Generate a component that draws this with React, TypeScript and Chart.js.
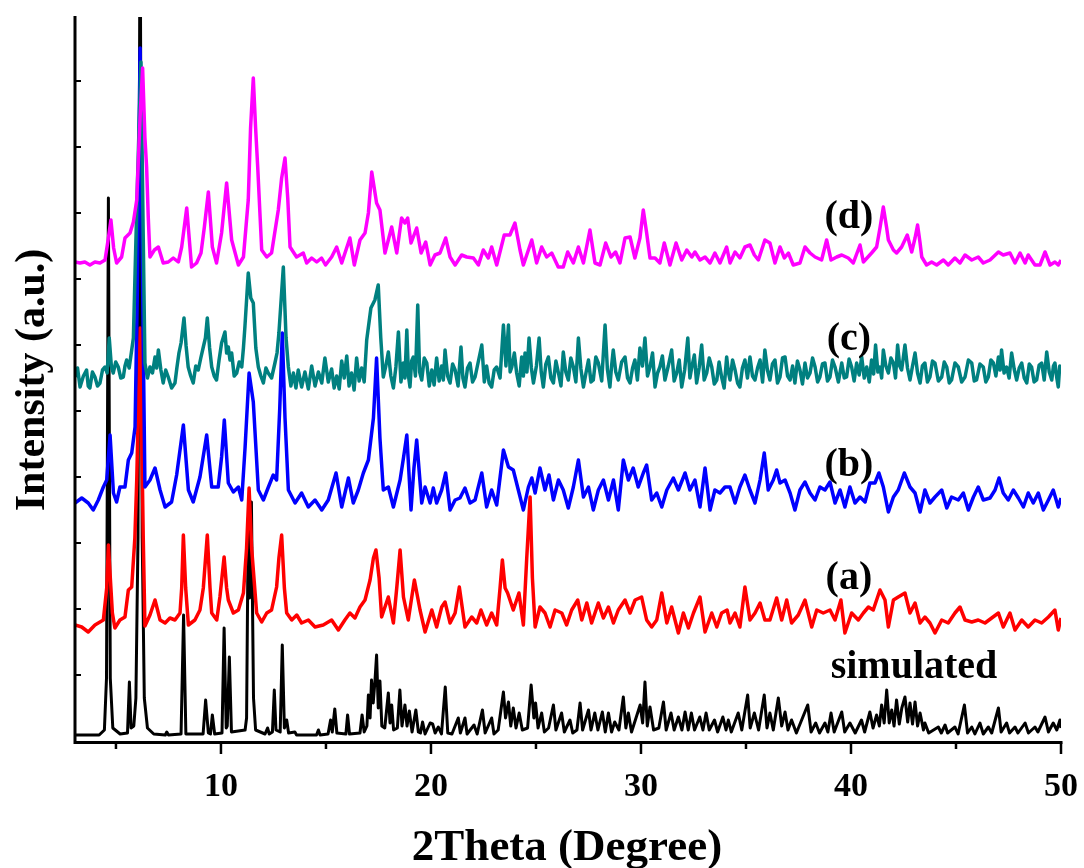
import React, { useEffect, useRef } from "react";
import { Chart, registerables } from "chart.js";

Chart.register(...registerables);

// 2Theta (degree) range and axis ticks
const xMin = 3.05;
const xMax = 50;
const xMajorTicks = [10, 20, 30, 40, 50];
const xMinorTicks = [5, 15, 25, 35, 45];
const yMin = -3;
const yMax = 721;
const yTickStep = 66;

const seriesLabels = ["(d)", "(c)", "(b)", "(a)", "simulated"];
const seriesColors = ["#FF00FF", "#008080", "#0000FF", "#FF0000", "#000000"];
const seriesWidths = [3.5, 3.5, 3.5, 3.5, 3];

// simulated pattern (intensity, a.u.)
const simulated: [number, number][] = [
  [3.05,3],[4.2,3],[4.45,8],[4.55,60],[4.64,540],[4.73,60],[4.85,10],[5.2,4],[5.55,5],[5.64,56],[5.72,10],[5.85,12],[5.95,40],[6.05,200],[6.15,850],[6.25,200],[6.35,40],[6.5,10],[6.8,4],
  [7.35,3],[7.42,6],[7.5,3],[8.1,4],[8.22,123],[8.33,4],[9.15,4],[9.27,38],[9.4,5],[9.5,4],[9.59,23],[9.7,4],[10.05,5],[10.15,110],[10.25,10],[10.3,12],[10.4,81],[10.5,6],
  [11.15,8],[11.22,20],[11.3,220],[11.36,140],[11.45,236],[11.55,40],[11.65,8],[12.1,4],[12.22,10],[12.3,4],[12.45,6],[12.54,48],[12.62,8],[12.82,6],[12.92,93],[13.02,10],[13.13,18],[13.22,5],
  [13.52,6],[13.6,3],[14.55,3],[14.64,8],[14.72,3],[15.1,4],[15.22,18],[15.3,6],[15.42,29],[15.52,5],[15.95,4],[16.03,23],[16.12,4],[16.62,5],[16.72,23],[16.82,6],[16.95,12],
  [17.02,43],[17.1,20],[17.17,58],[17.25,35],[17.33,56],[17.41,83],[17.49,30],[17.57,57],[17.66,12],[17.8,10],[17.97,45],[18.05,15],[18.13,33],[18.22,8],[18.4,10],[18.52,48],[18.62,12],
  [18.76,33],[18.86,12],[18.97,27],[19.1,6],[19.28,28],[19.4,6],[19.5,5],[19.6,16],[19.72,4],[19.96,15],[20.08,14],[20.2,5],[20.35,11],[20.5,4],[20.68,51],[20.8,5],[21.0,4],[21.3,20],
  [21.4,5],[21.62,20],[21.72,4],[22.05,13],[22.2,4],[22.45,28],[22.58,5],[22.89,20],[23.0,4],[23.2,8],[23.45,46],[23.55,20],[23.69,36],[23.8,12],[23.92,30],[24.05,10],[24.2,25],[24.35,8],
  [24.6,10],[24.77,53],[24.9,20],[24.98,35],[25.1,10],[25.27,25],[25.4,6],[25.6,10],[25.83,33],[25.95,8],[26.22,25],[26.35,6],[26.62,18],[26.75,5],[26.95,8],[27.1,35],[27.22,8],[27.5,28],
  [27.62,8],[27.8,25],[27.95,8],[28.16,26],[28.3,6],[28.45,25],[28.6,6],[28.75,16],[28.95,8],[29.16,41],[29.28,10],[29.4,25],[29.55,6],[29.96,33],[30.08,15],[30.19,56],[30.3,12],[30.43,31],
  [30.6,8],[30.85,10],[31.07,36],[31.2,8],[31.43,25],[31.58,8],[31.78,21],[31.95,8],[32.1,26],[32.25,8],[32.4,25],[32.55,8],[32.8,21],[32.95,8],[33.1,25],[33.25,8],[33.5,18],[33.65,6],
  [33.9,21],[34.05,8],[34.16,18],[34.3,6],[34.63,25],[34.8,8],[35.08,43],[35.2,10],[35.4,25],[35.6,8],[35.87,43],[36.0,10],[36.14,25],[36.3,8],[36.54,40],[36.7,12],[36.86,26],[37.0,8],
  [37.17,18],[37.4,5],[37.94,33],[38.1,6],[38.32,15],[38.5,5],[38.76,15],[38.9,6],[39.05,25],[39.2,6],[39.56,26],[39.7,6],[39.95,15],[40.2,5],[40.5,18],[40.65,6],[40.9,26],[41.05,10],
  [41.22,23],[41.35,12],[41.46,33],[41.58,15],[41.7,48],[41.82,15],[41.94,28],[42.05,12],[42.17,38],[42.3,14],[42.42,30],[42.57,41],[42.7,16],[42.81,35],[42.93,14],[43.05,36],[43.17,12],
  [43.29,25],[43.45,8],[43.52,15],[43.7,5],[44.16,11],[44.3,5],[44.48,13],[44.6,5],[44.95,11],[45.1,4],[45.4,33],[45.55,5],[45.75,11],[45.9,4],[46.14,15],[46.3,4],[46.54,11],[46.7,5],
  [47.02,30],[47.15,6],[47.41,15],[47.55,5],[47.81,11],[47.95,5],[48.29,15],[48.45,5],[48.76,11],[48.9,6],[49.24,21],[49.4,6],[49.63,15],[49.8,8],[49.95,18],[50,10]
];

// sample (a)
const sampleA: [number, number][] = [
  [3.05,113],[3.37,111],[3.68,106],[4.0,113],[4.4,118],[4.56,150],[4.64,193],[4.76,150],[4.83,125],[4.95,110],[5.19,118],[5.43,121],[5.59,148],[5.75,151],[5.9,200],[5.99,258],[6.15,410],
  [6.3,200],[6.38,112],[6.62,123],[6.86,138],[7.1,118],[7.34,115],[7.57,120],[7.81,118],[8.05,125],[8.13,150],[8.21,203],[8.32,150],[8.45,113],[8.76,118],[9.0,128],[9.16,150],[9.35,203],
  [9.48,150],[9.56,125],[9.8,118],[9.95,141],[10.15,181],[10.27,150],[10.35,138],[10.59,125],[10.83,128],[11.07,145],[11.22,190],[11.34,250],[11.46,190],[11.7,125],[11.94,116],[12.18,125],
  [12.41,128],[12.65,151],[12.76,180],[12.89,203],[13.02,150],[13.13,125],[13.37,118],[13.61,123],[13.84,115],[14.16,118],[14.48,111],[14.87,113],[15.27,118],[15.59,108],[15.9,118],
  [16.14,125],[16.38,120],[16.62,131],[16.86,138],[17.1,158],[17.26,180],[17.38,188],[17.53,160],[17.65,121],[17.97,141],[18.21,115],[18.37,150],[18.53,188],[18.69,141],[18.92,118],
  [19.21,158],[19.48,128],[19.72,106],[20.04,128],[20.27,111],[20.51,131],[20.67,136],[20.91,115],[21.15,125],[21.35,151],[21.62,111],[21.94,121],[22.18,115],[22.38,128],[22.65,113],
  [22.89,125],[23.13,113],[23.29,150],[23.4,178],[23.53,150],[23.65,145],[23.92,128],[24.19,145],[24.4,113],[24.56,180],[24.72,241],[24.83,160],[24.96,111],[25.19,131],[25.43,125],
  [25.67,111],[25.91,128],[26.23,125],[26.46,113],[26.7,128],[26.99,138],[27.18,118],[27.42,135],[27.65,115],[27.97,135],[28.21,120],[28.45,131],[28.69,115],[28.92,128],[29.24,138],
  [29.48,125],[29.72,138],[30.03,141],[30.27,118],[30.51,111],[30.75,118],[30.99,145],[31.23,115],[31.46,131],[31.78,105],[32.02,125],[32.26,110],[32.5,125],[32.81,141],[33.05,106],
  [33.37,125],[33.61,111],[33.84,125],[34.1,128],[34.24,115],[34.48,125],[34.71,111],[34.95,151],[35.19,118],[35.43,125],[35.67,135],[35.9,118],[36.14,118],[36.46,140],[36.7,118],
  [36.94,138],[37.17,115],[37.49,123],[37.81,138],[38.13,111],[38.37,128],[38.68,125],[39.0,128],[39.24,118],[39.52,138],[39.71,105],[40.03,125],[40.35,118],[40.59,125],[40.83,131],
  [41.06,128],[41.38,148],[41.62,138],[41.78,111],[42.02,138],[42.25,141],[42.57,145],[42.81,125],[43.05,135],[43.29,115],[43.52,121],[43.76,115],[44.0,105],[44.32,118],[44.63,115],
  [44.95,125],[45.19,131],[45.43,118],[45.75,116],[46.06,118],[46.38,115],[46.7,120],[47.02,125],[47.25,111],[47.57,125],[47.81,108],[48.13,118],[48.44,111],[48.76,118],[49.08,115],
  [49.4,121],[49.71,128],[49.87,108],[50,120]
];

// sample (b)
const sampleB: [number, number][] = [
  [3.05,235],[3.37,240],[3.68,235],[3.92,228],[4.16,238],[4.4,251],[4.56,258],[4.72,303],[4.88,245],[5.03,236],[5.19,251],[5.43,251],[5.59,278],[5.75,285],[5.91,311],[6.02,450],[6.15,690],
  [6.27,450],[6.38,251],[6.62,258],[6.86,270],[7.1,248],[7.34,231],[7.65,236],[7.89,263],[8.21,313],[8.45,248],[8.68,236],[9.0,261],[9.32,303],[9.56,251],[9.87,251],[10.03,281],[10.16,318],
  [10.35,255],[10.59,246],[10.83,251],[10.99,238],[11.15,291],[11.34,365],[11.54,336],[11.78,248],[12.02,238],[12.26,251],[12.49,263],[12.65,258],[12.8,330],[12.92,405],[13.05,320],
  [13.21,248],[13.53,235],[13.84,245],[14.16,231],[14.48,238],[14.8,228],[15.11,238],[15.48,265],[15.75,231],[16.07,260],[16.3,235],[16.54,248],[16.78,265],[17.02,278],[17.26,320],
  [17.41,380],[17.57,300],[17.73,248],[17.97,251],[18.21,231],[18.53,258],[18.69,280],[18.85,303],[19.05,228],[19.19,270],[19.32,298],[19.56,235],[19.72,251],[19.96,235],[20.11,250],
  [20.27,235],[20.51,248],[20.7,265],[20.91,228],[21.15,238],[21.38,240],[21.62,250],[21.86,235],[22.1,238],[22.42,265],[22.65,231],[22.89,248],[23.13,233],[23.45,288],[23.69,271],
  [23.92,268],[24.16,248],[24.4,228],[24.64,251],[24.8,260],[24.96,245],[25.19,270],[25.43,248],[25.62,263],[25.83,238],[26.07,258],[26.3,248],[26.54,230],[26.78,251],[27.02,278],
  [27.26,241],[27.5,251],[27.73,228],[27.97,248],[28.21,258],[28.45,238],[28.69,258],[28.92,228],[29.16,278],[29.4,258],[29.63,270],[29.87,251],[30.11,265],[30.27,273],[30.51,238],
  [30.75,245],[30.99,231],[31.23,248],[31.54,260],[31.78,248],[32.1,265],[32.33,248],[32.57,258],[32.81,231],[33.05,270],[33.29,228],[33.52,248],[33.76,245],[34.0,251],[34.24,251],
  [34.48,235],[34.71,251],[34.95,263],[35.19,248],[35.43,235],[35.67,258],[35.87,285],[36.06,248],[36.3,258],[36.46,268],[36.62,255],[36.86,258],[37.1,245],[37.33,228],[37.57,248],
  [37.81,256],[38.05,245],[38.29,238],[38.52,251],[38.76,248],[39.0,256],[39.24,235],[39.48,248],[39.71,231],[39.95,251],[40.19,235],[40.43,241],[40.67,236],[40.9,255],[41.14,255],
  [41.33,265],[41.54,251],[41.78,226],[42.02,241],[42.25,248],[42.54,265],[42.81,251],[43.05,245],[43.29,226],[43.52,248],[43.76,235],[44.0,241],[44.32,248],[44.56,230],[44.79,241],
  [45.11,238],[45.35,245],[45.59,228],[45.83,241],[46.06,251],[46.3,238],[46.62,240],[46.86,248],[47.05,260],[47.25,245],[47.49,238],[47.73,248],[47.97,240],[48.21,231],[48.44,245],
  [48.68,235],[48.92,245],[49.16,228],[49.4,238],[49.63,248],[49.87,231],[50,240]
];

// sample (c)
const sampleC: [number, number][] = [
  [3.05,361],[3.17,370],[3.29,351],[3.45,362],[3.6,368],[3.68,352],[3.76,350],[3.88,366],[4.0,361],[4.12,352],[4.24,355],[4.36,368],[4.48,371],[4.58,365],[4.68,400],[4.78,372],[4.87,365],
  [4.99,376],[5.11,371],[5.23,360],[5.35,361],[5.43,372],[5.51,378],[5.63,370],[5.75,388],[5.83,400],[5.91,465],[6.03,560],[6.19,676],[6.3,500],[6.38,375],[6.5,360],[6.62,371],[6.74,365],
  [6.86,381],[6.94,370],[7.02,388],[7.14,368],[7.25,355],[7.37,368],[7.49,361],[7.65,350],[7.81,355],[7.9,370],[8.0,385],[8.1,395],[8.24,420],[8.34,392],[8.44,371],[8.56,362],[8.68,355],
  [8.8,372],[8.92,368],[9.04,380],[9.16,391],[9.26,400],[9.35,420],[9.46,390],[9.56,371],[9.68,362],[9.79,358],[9.91,378],[10.03,395],[10.19,406],[10.27,385],[10.35,391],[10.43,378],
  [10.51,385],[10.63,362],[10.75,365],[10.87,376],[10.99,371],[11.07,390],[11.14,411],[11.3,465],[11.42,440],[11.54,435],[11.66,390],[11.78,371],[11.9,362],[12.02,355],[12.14,370],
  [12.25,365],[12.41,360],[12.57,375],[12.67,385],[12.76,405],[12.97,471],[13.1,400],[13.21,371],[13.33,352],[13.45,365],[13.57,350],[13.68,368],[13.84,351],[14.0,366],[14.16,349],
  [14.32,372],[14.48,352],[14.64,366],[14.8,355],[14.95,380],[15.11,356],[15.27,369],[15.39,350],[15.51,362],[15.63,349],[15.75,377],[15.87,360],[15.99,382],[16.1,352],[16.22,365],
  [16.34,348],[16.46,380],[16.58,357],[16.7,370],[16.82,356],[16.94,398],[17.14,430],[17.33,438],[17.49,453],[17.61,400],[17.73,361],[17.85,372],[17.97,386],[18.09,362],[18.21,350],
  [18.33,371],[18.45,406],[18.57,356],[18.68,375],[18.76,360],[18.85,408],[18.93,362],[19.0,351],[19.08,377],[19.16,381],[19.26,362],[19.37,433],[19.46,366],[19.56,358],[19.68,380],
  [19.8,375],[19.92,352],[20.04,368],[20.15,353],[20.27,380],[20.39,357],[20.51,372],[20.59,358],[20.67,388],[20.79,362],[20.91,355],[21.03,374],[21.15,368],[21.29,352],[21.43,391],
  [21.52,360],[21.62,351],[21.74,370],[21.86,375],[21.98,356],[22.1,361],[22.26,377],[22.42,393],[22.54,356],[22.65,372],[22.77,355],[22.89,351],[23.01,368],[23.13,371],[23.29,360],
  [23.45,413],[23.57,372],[23.69,413],[23.77,366],[23.85,371],[23.97,385],[24.08,365],[24.2,352],[24.32,381],[24.4,362],[24.48,385],[24.57,366],[24.67,400],[24.78,370],[24.88,355],
  [25.02,372],[25.15,400],[25.25,366],[25.35,351],[25.47,374],[25.59,381],[25.71,360],[25.83,355],[25.95,377],[26.07,365],[26.19,352],[26.3,386],[26.42,366],[26.54,358],[26.66,380],
  [26.78,371],[26.9,356],[27.02,400],[27.14,369],[27.26,351],[27.38,365],[27.5,378],[27.62,356],[27.73,358],[27.85,381],[27.97,375],[28.13,357],[28.29,413],[28.4,369],[28.52,351],
  [28.6,372],[28.68,388],[28.8,366],[28.92,358],[29.08,376],[29.24,381],[29.36,360],[29.48,355],[29.6,370],[29.71,378],[29.83,358],[29.95,390],[30.07,372],[30.19,400],[30.31,362],
  [30.43,371],[30.55,385],[30.67,351],[30.79,365],[30.9,371],[31.02,382],[31.14,358],[31.3,372],[31.46,388],[31.58,357],[31.7,365],[31.82,378],[31.94,351],[32.08,368],[32.23,400],
  [32.33,360],[32.42,371],[32.54,383],[32.65,355],[32.77,370],[32.89,393],[33.01,358],[33.13,365],[33.25,380],[33.37,371],[33.49,354],[33.61,358],[33.72,376],[33.84,361],[33.96,350],
  [34.08,381],[34.16,366],[34.24,358],[34.36,378],[34.48,368],[34.6,355],[34.71,351],[34.83,370],[34.95,378],[35.07,360],[35.19,381],[35.31,362],[35.43,358],[35.55,370],[35.67,378],
  [35.79,356],[35.9,388],[36.02,368],[36.14,358],[36.26,374],[36.38,378],[36.5,355],[36.62,361],[36.74,380],[36.86,381],[36.98,362],[37.1,358],[37.22,372],[37.33,355],[37.45,377],
  [37.57,368],[37.69,354],[37.81,375],[37.93,360],[38.05,365],[38.17,380],[38.29,371],[38.41,356],[38.52,361],[38.64,374],[38.76,375],[38.88,357],[39.0,361],[39.12,378],[39.24,371],
  [39.4,356],[39.56,375],[39.68,360],[39.79,361],[39.91,379],[40.03,371],[40.15,357],[40.27,375],[40.39,363],[40.51,381],[40.63,360],[40.75,371],[40.87,356],[40.98,378],[41.08,364],
  [41.17,393],[41.28,366],[41.38,371],[41.46,360],[41.54,388],[41.66,372],[41.78,365],[41.9,380],[42.02,375],[42.12,360],[42.22,393],[42.32,372],[42.41,368],[42.49,380],[42.57,393],
  [42.69,370],[42.81,358],[42.93,372],[43.05,385],[43.17,365],[43.29,355],[43.4,372],[43.52,375],[43.64,356],[43.76,361],[43.88,377],[44.0,375],[44.16,357],[44.32,361],[44.44,376],
  [44.56,371],[44.68,355],[44.79,358],[44.95,375],[45.11,371],[45.27,356],[45.43,361],[45.59,378],[45.75,375],[45.87,357],[45.98,358],[46.14,374],[46.3,371],[46.42,356],[46.54,361],
  [46.66,378],[46.78,375],[46.9,362],[47.02,381],[47.1,368],[47.17,388],[47.29,365],[47.41,371],[47.53,360],[47.65,385],[47.77,369],[47.89,358],[48.01,370],[48.13,375],[48.25,360],
  [48.37,355],[48.49,374],[48.6,371],[48.72,356],[48.84,358],[48.96,373],[49.08,375],[49.2,358],[49.32,386],[49.44,366],[49.56,358],[49.64,372],[49.71,375],[49.8,360],[49.87,351],
  [49.94,372],[50,368]
];

// sample (d)
const sampleD: [number, number][] = [
  [3.05,476],[3.29,475],[3.52,476],[3.76,473],[4.0,476],[4.24,475],[4.48,478],[4.64,500],[4.76,518],[4.89,490],[5.03,475],[5.27,481],[5.43,500],[5.67,505],[5.83,516],[5.99,538],[6.15,621],
  [6.27,670],[6.38,600],[6.46,571],[6.54,520],[6.62,481],[6.83,488],[7.02,491],[7.25,475],[7.49,476],[7.73,480],[7.97,476],[8.13,491],[8.37,530],[8.6,471],[8.84,475],[9.05,485],[9.21,511],
  [9.4,546],[9.59,491],[9.79,475],[10.03,505],[10.27,555],[10.51,498],[10.83,473],[11.07,481],[11.3,538],[11.41,610],[11.54,660],[11.65,610],[11.75,571],[11.94,488],[12.18,481],[12.41,485],
  [12.73,528],[12.89,560],[13.05,580],[13.18,540],[13.29,491],[13.6,481],[13.92,485],[14.08,475],[14.32,480],[14.56,476],[14.79,480],[14.98,473],[15.27,481],[15.51,491],[15.75,475],
  [16.14,500],[16.35,473],[16.62,498],[16.86,505],[17.02,525],[17.18,566],[17.41,535],[17.57,528],[17.81,485],[18.13,511],[18.37,485],[18.6,520],[18.76,515],[18.89,520],[19.05,495],
  [19.32,510],[19.53,485],[19.75,496],[19.96,473],[20.19,483],[20.43,485],[20.7,500],[20.91,481],[21.15,473],[21.46,483],[21.7,481],[22.02,480],[22.26,473],[22.49,488],[22.73,480],
  [22.89,491],[23.13,473],[23.49,503],[23.76,503],[24.0,515],[24.24,488],[24.4,473],[24.8,498],[25.03,475],[25.27,491],[25.51,481],[25.75,485],[26.06,471],[26.3,471],[26.51,486],
  [26.78,475],[27.02,491],[27.26,475],[27.57,508],[27.81,475],[28.05,473],[28.32,495],[28.57,481],[28.79,486],[29.0,475],[29.24,500],[29.48,501],[29.71,480],[29.95,500],[30.11,528],
  [30.27,505],[30.43,480],[30.67,480],[30.9,475],[31.11,495],[31.38,473],[31.67,495],[31.94,478],[32.18,488],[32.42,481],[32.57,486],[32.81,478],[33.05,481],[33.29,475],[33.52,485],
  [33.76,475],[34.08,491],[34.24,475],[34.48,486],[34.71,480],[34.95,491],[35.19,493],[35.4,483],[35.59,478],[35.9,498],[36.14,495],[36.38,475],[36.62,491],[36.83,480],[37.02,485],
  [37.25,473],[37.57,475],[37.81,491],[38.05,485],[38.29,481],[38.6,478],[38.84,498],[39.05,478],[39.32,481],[39.56,483],[39.87,480],[40.11,475],[40.43,493],[40.59,476],[40.98,485],
  [41.22,491],[41.38,510],[41.54,531],[41.7,510],[41.78,498],[42.02,488],[42.17,485],[42.41,491],[42.68,503],[42.89,486],[43.05,500],[43.17,513],[43.29,495],[43.37,481],[43.6,473],
  [43.84,476],[44.08,473],[44.4,478],[44.63,473],[44.95,480],[45.19,475],[45.43,483],[45.75,478],[46.06,481],[46.3,475],[46.62,478],[47.02,486],[47.25,483],[47.57,485],[47.81,475],
  [48.05,485],[48.29,475],[48.44,483],[48.76,473],[49.0,473],[49.24,486],[49.48,473],[49.71,476],[49.87,473],[50,478]
];

const seriesData = [sampleD, sampleC, sampleB, sampleA, simulated];

// label anchor points in data coordinates (x in degree, y in a.u.)
const labelAnchors: [number, number][] = [
  [39.9, 520], [39.9, 398], [39.9, 272], [39.9, 159], [43.0, 70]
];

const FONT = "'Liberation Serif', 'Times New Roman', serif";

const axesPlugin = {
  id: "originAxes",
  afterDatasetsDraw(chart: any) {
    const { ctx, chartArea, scales } = chart;
    const xs = scales.x;
    const ys = scales.y;
    const { left, right, top, bottom } = chartArea;
    ctx.save();
    ctx.strokeStyle = "#000";
    ctx.fillStyle = "#000";
    ctx.lineWidth = 3;
    ctx.lineCap = "butt";
    // axes lines
    ctx.beginPath();
    ctx.moveTo(left, top - 1);
    ctx.lineTo(left, bottom + 1.5);
    ctx.lineTo(right + 1.5, bottom + 1.5);
    ctx.stroke();
    // x ticks (outward)
    ctx.lineWidth = 2.5;
    for (const v of xMajorTicks) {
      const px = xs.getPixelForValue(v);
      ctx.beginPath();
      ctx.moveTo(px, bottom + 1.5);
      ctx.lineTo(px, bottom + 13);
      ctx.stroke();
    }
    for (const v of xMinorTicks) {
      const px = xs.getPixelForValue(v);
      ctx.beginPath();
      ctx.moveTo(px, bottom + 1.5);
      ctx.lineTo(px, bottom + 8);
      ctx.stroke();
    }
    // y ticks (inward)
    ctx.lineWidth = 2;
    for (let v = yMin + yTickStep; v < yMax; v += yTickStep) {
      const py = ys.getPixelForValue(v);
      ctx.beginPath();
      ctx.moveTo(left, py);
      ctx.lineTo(left + 6, py);
      ctx.stroke();
    }
    // x tick labels
    ctx.font = `bold 34px ${FONT}`;
    ctx.textAlign = "center";
    ctx.textBaseline = "middle";
    for (const v of xMajorTicks) {
      ctx.fillText(String(v), xs.getPixelForValue(v), bottom + 46);
    }
    // axis titles
    ctx.font = `bold 45px ${FONT}`;
    ctx.fillText("2Theta (Degree)", 567, bottom + 107);
    ctx.font = `bold 42px ${FONT}`;
    ctx.save();
    ctx.translate(33, (top + bottom) / 2 + 1);
    ctx.rotate(-Math.PI / 2);
    ctx.fillText("Intensity (a.u.)", 0, 0);
    ctx.restore();
    // series labels
    ctx.font = `bold 40px ${FONT}`;
    seriesLabels.forEach((lab, i) => {
      const [lx, ly] = labelAnchors[i];
      ctx.fillText(lab, xs.getPixelForValue(lx), ys.getPixelForValue(ly));
    });
    ctx.restore();
  },
};

export default function App() {
  const canvasRef = useRef<HTMLCanvasElement | null>(null);

  useEffect(() => {
    if (!canvasRef.current) return;
    const chart = new Chart(canvasRef.current, {
      type: "line",
      data: {
        datasets: seriesData.map((d, i) => ({
          label: seriesLabels[i],
          data: d as any,
          borderColor: seriesColors[i],
          backgroundColor: seriesColors[i],
          borderWidth: seriesWidths[i],
          pointRadius: 0,
          tension: 0,
          borderJoinStyle: "round" as const,
          fill: false,
        })),
      },
      options: {
        animation: false,
        responsive: false,
        parsing: true,
        layout: { padding: { left: 75, right: 23, top: 17, bottom: 127 } },
        plugins: { legend: { display: false }, tooltip: { enabled: false } },
        scales: {
          x: { type: "linear", min: xMin, max: xMax, display: false },
          y: { type: "linear", min: yMin, max: yMax, display: false },
        },
      },
      plugins: [axesPlugin],
    });
    return () => chart.destroy();
  }, []);

  return (
    <div style={{ position: "absolute", left: 0, top: 0, width: 1084, height: 868, background: "#fff" }}>
      <canvas ref={canvasRef} width={1084} height={868} />
    </div>
  );
}
